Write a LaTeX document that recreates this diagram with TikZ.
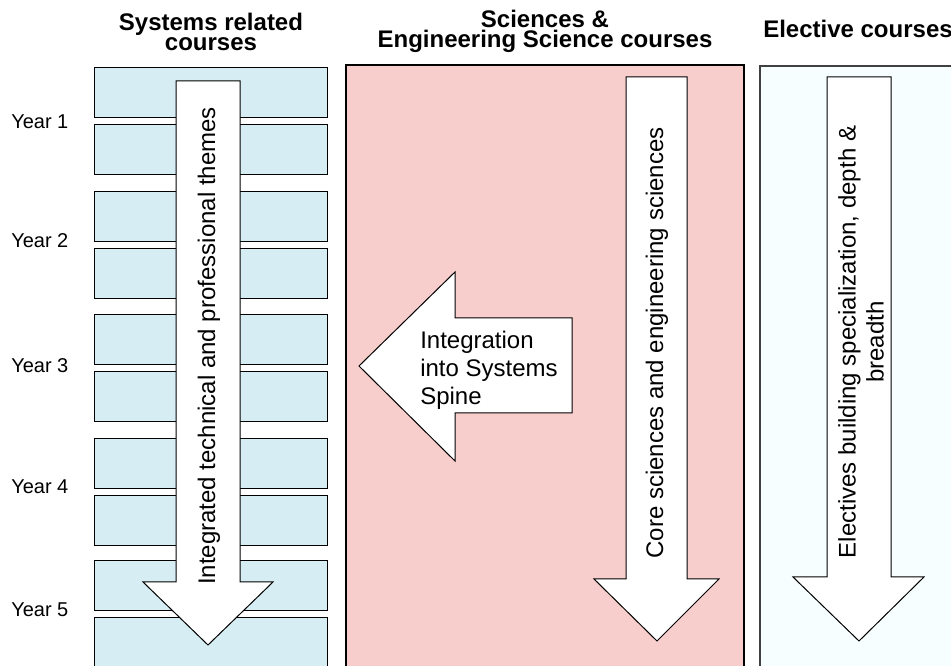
\documentclass[tikz,border=0pt]{standalone}
\usepackage{fontspec}
\setmainfont{Liberation Sans}
\definecolor{sysblue}{RGB}{213,237,243}
\definecolor{scipink}{RGB}{248,206,204}
\definecolor{elecwhite}{RGB}{247,254,255}

\begin{document}
\begin{tikzpicture}[
        x=0.75pt, y=-0.75pt,
        course/.style={draw, fill=sysblue, line width=0.75pt},
        band/.style={draw, line width=0.9pt},
        blockarrow/.style={draw, fill=white, line width=0.75pt, line join=miter},
        head/.style={font=\fontsize{18}{15}\selectfont\bfseries, align=center, inner sep=0pt},
        txt/.style={font=\fontsize{18}{21}\selectfont, inner sep=0pt},
        yr/.style={font=\fontsize{15}{18}\selectfont, inner sep=0pt}
    ]
    \useasboundingbox (0,0) rectangle (951,666);
    \clip (0,0) rectangle (951,666);
    % column headers
    \node[head, anchor=north] (hsys) at (211,13) {Systems related\\courses};
    \node[head, anchor=north] (hsci) at (545,10) {Sciences \&\\Engineering Science courses};
    \node[head, anchor=base] (hele) at (858,38) {Elective courses};
    % columns
    \draw[band, fill=scipink] (346,65) rectangle (744,700);
    \draw[band, fill=elecwhite, draw=black!75] (760,66) rectangle (1000,700);
    % two course boxes per year
    \foreach \i/\top/\base in {1/68/129,2/192/248,3/315/373,4/439/494,5/561/617}{
        \node[yr, anchor=base west] (y\i) at (11,\base) {Year \i};
        \draw[course] (94,\top) rectangle +(233,50);
        \draw[course] (94,\top+57) rectangle +(233,50);
    }
    % downward arrows
    \draw[blockarrow] (176,81) -- (240,81) -- (240,582) -- (273,582) -- (208,645) -- (143,582) -- (176,582) -- cycle;
    \node[txt, rotate=90] (tsys) at (209,346) {Integrated technical and professional themes};
    \draw[blockarrow] (626,77) -- (687,77) -- (687,579) -- (719,579) -- (657,641) -- (594,579) -- (626,579) -- cycle;
    \node[txt, rotate=90] (tsci) at (657,343) {Core sciences and engineering sciences};
    \draw[blockarrow] (827,77) -- (891,77) -- (891,577) -- (924,577) -- (859,641) -- (793,577) -- (827,577) -- cycle;
    \node[txt, rotate=90, align=center] (tele) at (861,342) {Electives building specialization, depth \&\\breadth};
    % arrow back to the spine
    \draw[blockarrow] (572,318) -- (572,413) -- (455,413) -- (455,461) -- (359,366) -- (455,272) -- (455,318) -- cycle;
    \node[txt, anchor=west, align=left] (tint) at (420,370) {Integration\\into Systems\\Spine};
\end{tikzpicture}
\end{document}
